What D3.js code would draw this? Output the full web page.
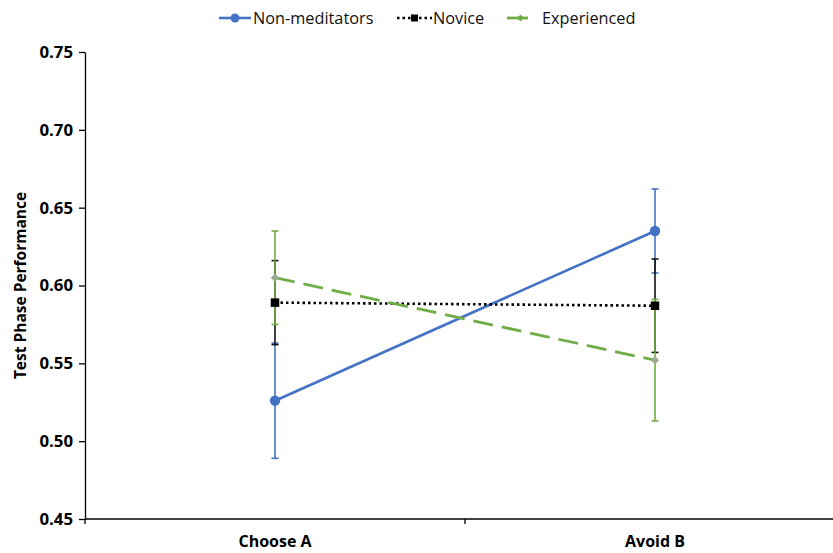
<!DOCTYPE html>
<html>
<head>
<meta charset="utf-8">
<script src="https://cdn.jsdelivr.net/npm/d3@7"></script>
<style>
  html, body { margin: 0; padding: 0; background: #fff; }
  svg { display: block; }
  text { font-family: "Open Sans", "Noto Sans", sans-serif; }
</style>
</head>
<body>
<svg id="chart" width="833" height="553"></svg>
<script>
// Conditions on the x axis
const categories = ["Choose A", "Avoid B"];
// Series names
const seriesNames = ["Non-meditators", "Novice", "Experienced"];
// Mean test phase performance per condition
const nonMeditators = [0.526, 0.635];
const novice = [0.589, 0.587];
const experienced = [0.605, 0.552];
// Error bar half-lengths
const nonMeditatorsErr = [0.037, 0.027];
const noviceErr = [0.027, 0.030];
const experiencedErr = [0.030, 0.039];
// Y axis ticks
const yTicks = [0.45, 0.50, 0.55, 0.60, 0.65, 0.70, 0.75];

const svg = d3.select("#chart");
const plotLeft = 85, plotRight = 845, plotTop = 52, plotBottom = 519;

const x = d3.scaleBand().domain(categories).range([plotLeft, plotRight]);
const y = d3.scaleLinear().domain([0.45, 0.75]).range([plotBottom, plotTop]);
const cx = c => x(c) + x.bandwidth() / 2;

// Y axis
const yAxis = svg.append("g").attr("transform", `translate(${plotLeft},0)`)
  .call(d3.axisLeft(y).tickValues(yTicks).tickFormat(d3.format(".2f")).tickSize(6).tickSizeOuter(0));
yAxis.select(".domain").attr("stroke", "#000").attr("stroke-width", 1.3);
yAxis.selectAll(".tick line").attr("stroke", "#000").attr("stroke-width", 1.3);
yAxis.selectAll(".tick text").attr("font-size", 16.8).attr("font-weight", "bold")
  .attr("fill", "#000").attr("x", -12).attr("font-family", "'Open Sans', sans-serif");

// X axis with boundary ticks between categories
const xAxisG = svg.append("g");
xAxisG.append("line").attr("x1", plotLeft).attr("x2", plotRight).attr("y1", plotBottom).attr("y2", plotBottom)
  .attr("stroke", "#000").attr("stroke-width", 1.3);
const boundaries = [plotLeft, x(categories[1]), plotRight];
xAxisG.selectAll(".btick").data(boundaries).join("line")
  .attr("x1", d => d).attr("x2", d => d).attr("y1", plotBottom).attr("y2", plotBottom + 5)
  .attr("stroke", "#000").attr("stroke-width", 1.3);
xAxisG.selectAll(".xlab").data(categories).join("text")
  .attr("x", d => cx(d)).attr("y", 547).attr("text-anchor", "middle")
  .attr("font-size", 16).attr("font-weight", "bold").attr("fill", "#000").text(d => d);

// Y axis title
svg.append("text").attr("transform", `translate(26,${(plotTop + plotBottom) / 2}) rotate(-90)`)
  .attr("text-anchor", "middle").attr("font-size", 15.5).attr("font-weight", "bold")
  .attr("fill", "#000").text("Test Phase Performance");

const series = [
  { name: seriesNames[0], vals: nonMeditators, err: nonMeditatorsErr, color: "#4472c4", dash: null, width: 2.6, marker: "circle" },
  { name: seriesNames[1], vals: novice, err: noviceErr, color: "#000000", dash: "2.5,3", width: 2.6, marker: "square" },
  { name: seriesNames[2], vals: experienced, err: experiencedErr, color: "#70ad47", dash: "20,9", width: 2.8, marker: "diamond" }
];

const line = d3.line().x((d, i) => cx(categories[i])).y(d => y(d));

function drawMarker(g, type, px, py, small) {
  if (type === "circle") {
    g.append("circle").attr("cx", px).attr("cy", py).attr("r", small ? 4.5 : 5.2).attr("fill", "#4472c4");
  } else if (type === "square") {
    const s = small ? 7 : 8.5;
    g.append("rect").attr("x", px - s / 2).attr("y", py - s / 2).attr("width", s).attr("height", s).attr("fill", "#000");
  } else {
    const s = small ? 3.5 : 4.2;
    g.append("path").attr("d", `M${px},${py - s}L${px + s},${py}L${px},${py + s}L${px - s},${py}Z`)
      .attr("fill", small ? "#70ad47" : "#9aa98f");
  }
}

// Error bars
series.forEach(s => {
  const g = svg.append("g");
  s.vals.forEach((v, i) => {
    const px = cx(categories[i]);
    const errCol = s.color === "#000000" ? "#111" : s.color;
    g.append("line").attr("x1", px).attr("x2", px).attr("y1", y(v + s.err[i])).attr("y2", y(v - s.err[i]))
      .attr("stroke", errCol).attr("stroke-width", 1.6);
    [v + s.err[i], v - s.err[i]].forEach(e => {
      g.append("line").attr("x1", px - 3.5).attr("x2", px + 3.5).attr("y1", y(e)).attr("y2", y(e))
        .attr("stroke", errCol).attr("stroke-width", 1.6);
    });
  });
});

// Lines and markers
series.forEach(s => {
  const g = svg.append("g");
  g.append("path").datum(s.vals).attr("d", line).attr("fill", "none")
    .attr("stroke", s.color).attr("stroke-width", s.width)
    .attr("stroke-dasharray", s.dash);
  s.vals.forEach((v, i) => drawMarker(g, s.marker, cx(categories[i]), y(v), false));
});

// Legend
const legendItems = [
  { s: series[0], x1: 219, x2: 251, tx: 253 },
  { s: series[1], x1: 397, x2: 432, tx: 433 },
  { s: series[2], x1: 507, x2: 528, tx: 542 }
];
const lg = svg.append("g");
legendItems.forEach(it => {
  const ly = 18;
  lg.append("line").attr("x1", it.x1).attr("x2", it.x2).attr("y1", ly).attr("y2", ly)
    .attr("stroke", it.s.color).attr("stroke-width", it.s.width)
    .attr("stroke-dasharray", it.s.marker === "square" ? "2.5,3" : null);
  drawMarker(lg, it.s.marker, (it.x1 + it.x2) / 2 + (it.s.marker === "diamond" ? 3 : 0), ly, true);
  lg.append("text").attr("x", it.tx).attr("y", ly).attr("dy", "0.35em")
    .attr("font-size", 16.3).attr("fill", "#111").text(it.s.name);
});
</script>
</body>
</html>
